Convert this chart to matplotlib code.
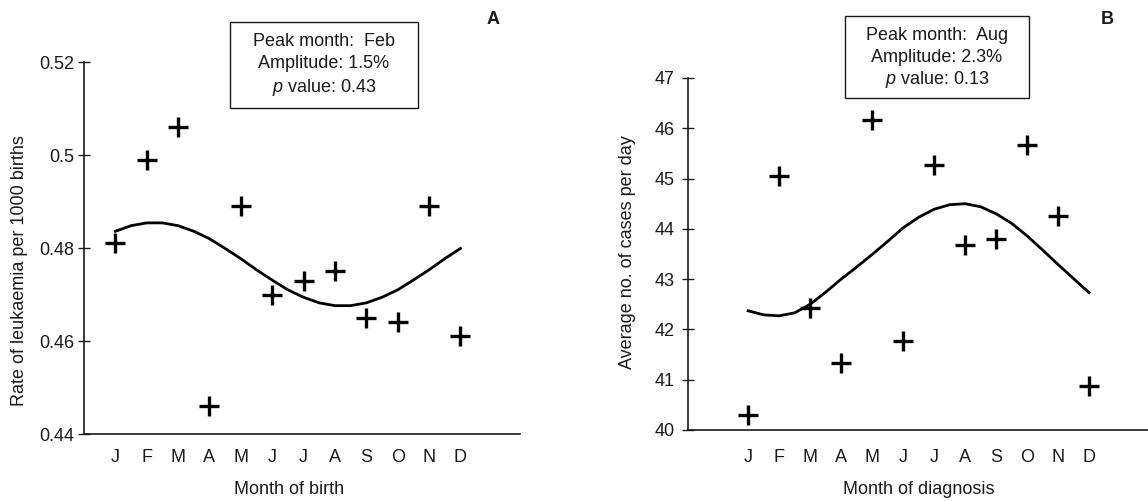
import matplotlib
matplotlib.use("Agg")
import matplotlib.pyplot as plt
from matplotlib.patches import Rectangle

plt.rcParams["font.family"] = ["Liberation Sans", "DejaVu Sans"]
plt.rcParams["mathtext.fontset"] = "custom"
plt.rcParams["mathtext.it"] = "Liberation Sans:italic"
plt.rcParams["mathtext.rm"] = "Liberation Sans"

W, H = 1148, 501
INK = "#1a1a1a"

months = ["J", "F", "M", "A", "M", "J", "J", "A", "S", "O", "N", "D"]
month_pos = list(range(1, 13))

# panel A: rate of leukaemia per 1000 births by month of birth
rate_obs = [0.481, 0.499, 0.506, 0.446, 0.489, 0.470, 0.473, 0.475, 0.465, 0.464, 0.489, 0.461]
# fitted curve at half-month steps
curve_pos = [1 + 0.5 * i for i in range(23)]
rate_fit = [0.4836, 0.4848, 0.4854, 0.4854, 0.4848, 0.4836, 0.4820, 0.4799, 0.4777, 0.4753,
            0.4731, 0.4710, 0.4694, 0.4682, 0.4676, 0.4676, 0.4682, 0.4694, 0.4710, 0.4731,
            0.4753, 0.4777, 0.4799]
rate_ticks = [0.44, 0.46, 0.48, 0.50, 0.52]
rate_ticklabels = ["0.44", "0.46", "0.48", "0.5", "0.52"]

# panel B: average number of cases per day by month of diagnosis
cases_obs = [40.30, 45.05, 42.42, 41.33, 46.17, 41.77, 45.27, 43.68, 43.80, 45.66, 44.26, 40.88]
cases_fit = [42.37, 42.29, 42.27, 42.33, 42.50, 42.74, 43.00, 43.24, 43.49, 43.75, 44.02, 44.23,
             44.39, 44.48, 44.50, 44.44, 44.30, 44.11, 43.86, 43.58, 43.29, 43.01, 42.73]
cases_ticks = [40, 41, 42, 43, 44, 45, 46, 47]

boxA = ["Peak month:  Feb", "Amplitude: 1.5%", r"$\it{p}$ value: 0.43"]
boxB = ["Peak month:  Aug", "Amplitude: 2.3%", r"$\it{p}$ value: 0.13"]


def px_rect(left, top, right, bottom):
    return [left / W, 1 - bottom / H, (right - left) / W, (bottom - top) / H]


def style_axes(ax, tick_len, tick_pad, month_pad):
    for s in ["top", "right"]:
        ax.spines[s].set_visible(False)
    for s in ["left", "bottom"]:
        ax.spines[s].set_linewidth(1.2)
        ax.spines[s].set_color(INK)
    ax.tick_params(axis="y", direction="inout", length=tick_len, width=1.0,
                   pad=tick_pad, labelsize=13, colors=INK)
    ax.tick_params(axis="x", length=0, pad=month_pad, labelsize=13, colors=INK)
    ax.set_xticks(month_pos)
    ax.set_xticklabels(months)


def draw_box(fig, left, top, right, bottom, lines, line_y):
    fig.patches.append(Rectangle((left / W, 1 - bottom / H), (right - left) / W, (bottom - top) / H,
                                 transform=fig.transFigure, fill=False, edgecolor=INK, linewidth=1.0))
    cx = (left + right) / 2 / W
    for txt, y in zip(lines, line_y):
        fig.text(cx, 1 - y / H, txt, ha="center", va="center", fontsize=13, color=INK)


fig = plt.figure(figsize=(W / 100, H / 100), dpi=100)

axA = fig.add_axes(px_rect(84, 62, 520, 434))
axA.plot(curve_pos, rate_fit, color="black", linewidth=2.0, solid_joinstyle="round")
axA.plot(month_pos, rate_obs, linestyle="none", marker="+", markersize=14, markeredgewidth=2.4, color="black")
axA.set_xlim(0, 13.9)
axA.set_ylim(0.44, 0.52)
axA.set_yticks(rate_ticks)
axA.set_yticklabels(rate_ticklabels)
style_axes(axA, 8, 3, 11)

axB = fig.add_axes(px_rect(688, 78, 1148, 430))
axB.plot(curve_pos, cases_fit, color="black", linewidth=2.0, solid_joinstyle="round")
axB.plot(month_pos, cases_obs, linestyle="none", marker="+", markersize=14, markeredgewidth=2.4, color="black")
axB.set_xlim(-0.94, 13.9)
axB.set_ylim(40, 47)
axB.set_yticks(cases_ticks)
style_axes(axB, 9, 5, 14)

fig.text(20 / W, 1 - 271 / H, "Rate of leukaemia per 1000 births", rotation=90,
         ha="center", va="center", fontsize=13, color=INK)
fig.text(627 / W, 1 - 252 / H, "Average no. of cases per day", rotation=90,
         ha="center", va="center", fontsize=13, color=INK)
fig.text(289 / W, 1 - 490 / H, "Month of birth", ha="center", va="center", fontsize=13, color=INK)
fig.text(919 / W, 1 - 490 / H, "Month of diagnosis", ha="center", va="center", fontsize=13, color=INK)

fig.text(493 / W, 1 - 20 / H, "A", ha="center", va="center", fontsize=13, fontweight="bold", color=INK)
fig.text(1107 / W, 1 - 20 / H, "B", ha="center", va="center", fontsize=13, fontweight="bold", color=INK)

draw_box(fig, 230, 22, 418, 108, boxA, [42, 64, 87])
draw_box(fig, 845, 16, 1029, 98, boxB, [35, 57, 79])

fig.savefig("out.png", dpi=100)
